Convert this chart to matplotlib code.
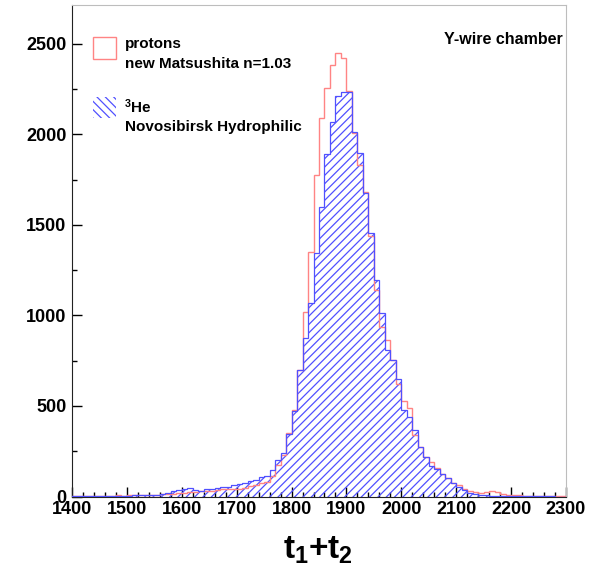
import numpy as np
import matplotlib
matplotlib.use("Agg")
import matplotlib.pyplot as plt
from matplotlib.patches import Rectangle
from matplotlib.ticker import MultipleLocator

plt.rcParams['font.family'] = ['Liberation Sans', 'DejaVu Sans']
plt.rcParams['mathtext.fontset'] = 'custom'
plt.rcParams['mathtext.rm'] = 'Liberation Sans:bold'
plt.rcParams['mathtext.it'] = 'Liberation Sans:bold'
plt.rcParams['mathtext.bf'] = 'Liberation Sans:bold'
plt.rcParams['hatch.linewidth'] = 0.9

# bin edges (width 10) from 1400 to 2300
bin_edges = np.arange(1400, 2301, 10)

protons = [
    3, 4, 3, 5, 4, 4, 5, 5, 6, 5,                       # 1400-1490
    6, 6, 7, 8, 9, 10, 12, 14, 16, 18,                  # 1500-1590
    22, 25, 27, 30, 33, 33, 35, 42, 44, 44,             # 1600-1690
    44, 46, 58, 63, 75, 80, 116, 175, 227, 350,         # 1700-1790
    480, 700, 1020, 1351, 1775, 2090, 2256, 2383, 2448, 2420,   # 1800-1890
    2240, 2010, 1830, 1680, 1440, 1139, 936, 863, 752, 620,     # 1900-1990
    530, 487, 340, 275, 220, 188, 160, 127, 100, 77,    # 2000-2090
    61, 44, 30, 25, 22, 25, 28, 25, 15, 10,             # 2100-2190
    8, 6, 5, 4, 4, 3, 3, 2, 2, 2,                       # 2200-2290
]

helium3 = [
    2, 3, 2, 3, 3, 4, 3, 4, 5, 5,                       # 1400-1490
    5, 6, 6, 8, 9, 11, 14, 20, 30, 34,                  # 1500-1590
    44, 46, 34, 33, 44, 42, 46, 50, 52, 62,             # 1600-1690
    70, 74, 86, 90, 108, 114, 144, 200, 238, 348,       # 1700-1790
    475, 697, 874, 1067, 1343, 1600, 1890, 2070, 2215, 2236,    # 1800-1890
    2236, 2015, 1900, 1675, 1454, 1194, 1012, 807, 752, 650,    # 1900-1990
    476, 437, 365, 271, 216, 171, 150, 127, 100, 77,    # 2000-2090
    55, 38, 22, 14, 8, 6, 5, 4, 3, 3,                   # 2100-2190
    2, 2, 1, 1, 1, 1, 1, 1, 0, 0,                       # 2200-2290
]

x_ticks = [1400, 1500, 1600, 1700, 1800, 1900, 2000, 2100, 2200, 2300]
y_ticks = [0, 500, 1000, 1500, 2000, 2500]

red = '#ff8484'
blue = '#5050ff'

W, H = 605, 578
fig = plt.figure(figsize=(W / 100, H / 100), dpi=100)
L, R, B, T = 72, 566, 496.5, 5
ax = fig.add_axes([L / W, 1 - B / H, (R - L) / W, (B - T) / H])

ax.stairs(helium3, bin_edges, fill=True, hatch='////', facecolor='none',
          edgecolor=blue, linewidth=0, zorder=2)
ax.stairs(protons, bin_edges, baseline=0, color=red, linewidth=1.0, zorder=3)
ax.stairs(helium3, bin_edges, baseline=0, color=blue, linewidth=0.9, zorder=4)

ax.set_xlim(1400, 2300)
ax.set_ylim(0, 2715)
ax.set_xticks(x_ticks)
ax.set_yticks(y_ticks)
ax.xaxis.set_minor_locator(MultipleLocator(20))
ax.yaxis.set_minor_locator(MultipleLocator(250))
ax.tick_params(axis='both', which='both', direction='in', top=False, right=False)
ax.tick_params(axis='both', which='major', length=7, width=1, labelsize=13)
ax.tick_params(axis='both', which='minor', length=3.5, width=1)
ax.tick_params(axis='x', pad=3)
ax.tick_params(axis='y', pad=4)
for lab in ax.get_xticklabels() + ax.get_yticklabels():
    lab.set_fontweight('bold')

for s in ['top', 'right']:
    ax.spines[s].set_color('#bdbdbd')
for s in ['left', 'bottom']:
    ax.spines[s].set_color('#222222')

# legend (manual, ROOT style)
def fx(px):
    return px / W

def fy(py):
    return 1 - py / H

fig.patches.append(Rectangle((fx(93), fy(59)), 23 / W, 22 / H, transform=fig.transFigure,
                             fill=False, edgecolor=red, linewidth=1.0))
fig.patches.append(Rectangle((fx(93), fy(118)), 23 / W, 21 / H, transform=fig.transFigure,
                             fill=False, hatch='\\\\\\\\', edgecolor=blue, linewidth=0))

lab_kw = dict(transform=fig.transFigure, fontsize=11, fontweight='bold',
              ha='left', va='center', color='black')
fig.text(fx(125), fy(44), 'protons', **lab_kw)
fig.text(fx(125), fy(64), 'new Matsushita n=1.03', **lab_kw)
fig.text(fx(124), fy(107), r'$^{3}$He', **lab_kw)
fig.text(fx(125), fy(127), 'Novosibirsk Hydrophilic', **lab_kw)

fig.text(fx(444), fy(39), 'Y-wire chamber', transform=fig.transFigure, fontsize=11.5,
         fontweight='bold', ha='left', va='center')

fig.text(fx(318), fy(550), r'$t_1$+$t_2$', transform=fig.transFigure, fontsize=24,
         fontweight='bold', ha='center', va='center')

fig.savefig('out.png', dpi=100)
